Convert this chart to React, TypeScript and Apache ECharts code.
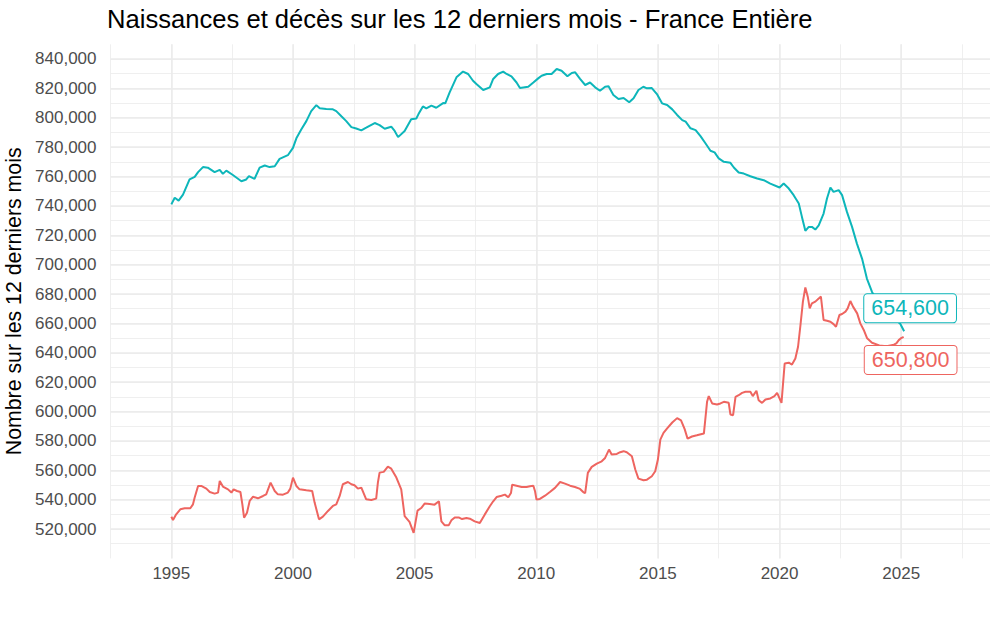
import React, { useEffect, useRef } from "react";
import * as echarts from "echarts";

const TITLE = "Naissances et décès sur les 12 derniers mois - France Entière";
const Y_NAME = "Nombre sur les 12 derniers mois";
const X_TICK_YEARS = [1995, 2000, 2005, 2010, 2015, 2020, 2025];
const Y_LABEL_MIN = 520000;
const Y_LABEL_MAX = 840000;

const BIRTH_COLOR = "#0DB6BA";
const DEATH_COLOR = "#EE6560";

// Naissances (births), 12-month rolling totals
const birthDates = [
  1995.0, 1995.14, 1995.3, 1995.48, 1995.75, 1995.96, 1996.1, 1996.3, 1996.5, 1996.78,
  1996.99, 1997.12, 1997.26, 1997.53, 1997.88, 1998.08, 1998.19, 1998.42, 1998.63, 1998.84,
  1999.04, 1999.25, 1999.45, 1999.79, 2000.0, 2000.14, 2000.34, 2000.55, 2000.75, 2000.96,
  2001.1, 2001.37, 2001.64, 2001.78, 2001.99, 2002.19, 2002.4, 2002.6, 2002.81, 2003.01,
  2003.36, 2003.56, 2003.77, 2004.04, 2004.18, 2004.32, 2004.59, 2004.86, 2005.07, 2005.16,
  2005.34, 2005.48, 2005.69, 2005.89, 2006.17, 2006.26, 2006.44, 2006.72, 2006.99, 2007.2,
  2007.4, 2007.54, 2007.82, 2008.09, 2008.23, 2008.43, 2008.64, 2008.78, 2008.98, 2009.19,
  2009.33, 2009.67, 2009.88, 2010.08, 2010.22, 2010.43, 2010.63, 2010.84, 2011.04, 2011.28,
  2011.46, 2011.6, 2011.8, 2012.01, 2012.21, 2012.42, 2012.62, 2012.83, 2012.97, 2013.17,
  2013.38, 2013.59, 2013.82, 2014.0, 2014.2, 2014.4, 2014.55, 2014.75, 2014.96, 2015.17,
  2015.38, 2015.59, 2015.79, 2016.0, 2016.14, 2016.34, 2016.55, 2016.75, 2016.96, 2017.16,
  2017.33, 2017.5, 2017.71, 2017.98, 2018.12, 2018.32, 2018.53, 2018.8, 2019.08, 2019.35,
  2019.62, 2020.0, 2020.17, 2020.38, 2020.58, 2020.79, 2020.92, 2021.06, 2021.2, 2021.33,
  2021.47, 2021.61, 2021.81, 2021.95, 2022.09, 2022.22, 2022.43, 2022.57, 2022.77, 2022.98,
  2023.18, 2023.39, 2023.59, 2023.8, 2024.0, 2024.25, 2024.5, 2024.75, 2024.96, 2025.12,
];
const birthValues = [
  741000, 745500, 743600, 747700, 758000, 759800, 763000, 766400, 766000, 763000,
  764500, 761800, 764000, 761000, 756800, 758000, 760200, 758400, 766000, 767500,
  766400, 767000, 772000, 774500, 779500, 786000, 792000, 797700, 804500, 808600,
  806400, 806000, 805700, 804500, 801000, 797700, 793600, 792700, 791400, 793200,
  796400, 795000, 792500, 793900, 791000, 786800, 791000, 799000, 799500, 802500,
  807700, 806400, 808200, 806800, 810000, 809800, 817300, 827500, 831400, 829800,
  825200, 823000, 818900, 820700, 826400, 829800, 831400, 829800, 828200, 824000,
  820200, 821100, 824000, 826800, 828600, 829800, 829800, 833200, 832000, 828200,
  830500, 830900, 826400, 822300, 824000, 820700, 818400, 821100, 821400, 815500,
  812700, 813400, 810500, 813200, 818900, 821100, 820000, 820200, 816100, 809800,
  808700, 805700, 801900, 798400, 797300, 792800, 791600, 787500, 782500, 777500,
  776400, 772300, 770000, 769300, 766100, 762700, 762000, 760200, 758600, 757500,
  755200, 752500, 755200, 751800, 747300, 741600, 732500, 723000, 725700, 725700,
  723900, 726800, 734800, 745000, 752500, 749500, 750700, 747300, 735900, 725700,
  714300, 704100, 690500, 681400, 675700, 670500, 666500, 662500, 659800, 654600,
];

// Décès (deaths), 12-month rolling totals
const deathDates = [
  1995.0, 1995.07, 1995.2, 1995.37, 1995.55, 1995.78, 1995.89, 1995.96, 1996.1, 1996.23,
  1996.44, 1996.58, 1996.78, 1996.92, 1996.99, 1997.12, 1997.33, 1997.47, 1997.56, 1997.7,
  1997.84, 1997.92, 1997.99, 1998.11, 1998.22, 1998.36, 1998.56, 1998.77, 1998.9, 1999.08,
  1999.25, 1999.38, 1999.59, 1999.79, 1999.89, 2000.0, 2000.14, 2000.27, 2000.55, 2000.79,
  2000.89, 2001.07, 2001.23, 2001.44, 2001.64, 2001.78, 2001.92, 2002.05, 2002.26, 2002.4,
  2002.53, 2002.67, 2002.81, 2003.01, 2003.22, 2003.42, 2003.49, 2003.56, 2003.73, 2003.9,
  2004.04, 2004.25, 2004.45, 2004.59, 2004.79, 2004.96, 2005.12, 2005.27, 2005.41, 2005.62,
  2005.82, 2006.0, 2006.1, 2006.24, 2006.4, 2006.51, 2006.65, 2006.81, 2006.95, 2007.13,
  2007.27, 2007.47, 2007.68, 2007.88, 2008.09, 2008.23, 2008.37, 2008.57, 2008.71, 2008.85,
  2008.96, 2009.01, 2009.19, 2009.4, 2009.6, 2009.74, 2009.88, 2009.95, 2010.01, 2010.15,
  2010.36, 2010.56, 2010.77, 2010.98, 2011.18, 2011.39, 2011.59, 2011.8, 2011.94, 2012.01,
  2012.12, 2012.28, 2012.49, 2012.69, 2012.83, 2012.99, 2013.1, 2013.31, 2013.45, 2013.59,
  2013.72, 2013.93, 2014.07, 2014.2, 2014.41, 2014.55, 2014.75, 2014.89, 2015.0, 2015.1,
  2015.23, 2015.38, 2015.59, 2015.79, 2015.95, 2016.1, 2016.22, 2016.4, 2016.6, 2016.89,
  2017.02, 2017.09, 2017.23, 2017.43, 2017.57, 2017.71, 2017.91, 2017.98, 2018.09, 2018.19,
  2018.32, 2018.46, 2018.6, 2018.8, 2018.9, 2019.05, 2019.14, 2019.28, 2019.42, 2019.62,
  2019.79, 2019.9, 2020.08, 2020.21, 2020.38, 2020.51, 2020.65, 2020.76, 2020.86, 2020.96,
  2021.06, 2021.16, 2021.24, 2021.33, 2021.47, 2021.61, 2021.7, 2021.81, 2021.95, 2022.09,
  2022.22, 2022.32, 2022.46, 2022.57, 2022.71, 2022.8, 2022.91, 2023.02, 2023.19, 2023.32,
  2023.46, 2023.6, 2023.8, 2024.1, 2024.4, 2024.7, 2024.8, 2024.9, 2025.0, 2025.1,
];
const deathValues = [
  528400, 526100, 530000, 533400, 534100, 534100, 536800, 541400, 549300, 549300,
  547500, 545200, 544100, 544800, 552700, 548900, 547000, 544800, 547000, 545900,
  545200, 536800, 527700, 531100, 539100, 542000, 540900, 542500, 543600, 551600,
  545900, 543600, 543400, 544800, 547500, 555000, 549300, 547000, 546400, 545900,
  538000, 526600, 528400, 532300, 535700, 536800, 542500, 550500, 552000, 550500,
  549800, 547500, 548200, 540200, 539800, 540700, 551600, 558400, 558900, 562500,
  561100, 555000, 547000, 528800, 524800, 517400, 532500, 534300, 537300, 537000,
  536600, 538900, 525200, 522500, 522500, 525900, 527900, 527900, 526800, 527500,
  527000, 525200, 524100, 529800, 535500, 538900, 541800, 542700, 543400, 541600,
  544500, 550200, 549500, 548600, 548600, 549100, 549500, 545700, 540000, 540500,
  542700, 545200, 548000, 552000, 550900, 549500, 548600, 547300, 545000, 544500,
  558200, 562300, 564500, 566100, 568400, 574100, 570700, 571100, 572300, 573000,
  572300, 569500, 560500, 554300, 553200, 553600, 555900, 559300, 567300, 580900,
  585500, 588500, 592500, 595500, 594000, 588000, 581500, 583000, 583800, 585000,
  606600, 610500, 605500, 604800, 605500, 606600, 605900, 598000, 597500, 610000,
  611100, 612700, 613400, 613400, 610500, 614100, 607700, 605900, 608200, 608900,
  610500, 612700, 605900, 632700, 633200, 632000, 636100, 644100, 658900, 674800,
  684500, 678200, 670200, 673600, 674800, 677000, 678200, 662300, 661800, 661100,
  659500, 657700, 665700, 666400, 668000, 670200, 675200, 671400, 666800, 660000,
  655500, 649800, 646800, 645000, 644500, 645500, 646400, 648600, 650000, 650800,
];

const FONT = "'Liberation Sans', Arial, Helvetica, sans-serif";
const GRID_COLOR = "#EBEBEB";

function fmt(v: number): string {
  return Math.round(v).toString().replace(/\B(?=(\d{3})+(?!\d))/g, ",");
}

function endLabel(dates: number[], values: number[], color: string, offset: number[]) {
  const i = dates.length - 1;
  return {
    symbol: "circle",
    symbolSize: 0,
    silent: true,
    z: 10,
    data: [{ coord: [dates[i], values[i]], value: values[i] }],
    label: {
      show: true,
      position: "inside",
      offset,
      formatter: (p: any) => fmt(p.value),
      color,
      fontFamily: FONT,
      fontSize: 21.5,
      lineHeight: 24,
      backgroundColor: "#FFFFFF",
      borderColor: color,
      borderWidth: 1,
      borderRadius: 3,
      padding: [2, 7, 2, 7],
    },
  };
}

export default function App() {
  const ref = useRef<HTMLDivElement>(null);

  useEffect(() => {
    if (!ref.current) return;
    const chart = echarts.init(ref.current, undefined, { renderer: "svg" });
    const xMin = 1992.5;
    const xMax = 2028.65;
    const yMin = 500000;
    const yMax = 850000;

    chart.setOption({
      animation: false,
      backgroundColor: "#FFFFFF",
      title: {
        text: TITLE,
        left: 107,
        top: 6,
        padding: 0,
        textStyle: {
          fontFamily: FONT,
          fontSize: 25.6,
          fontWeight: "normal",
          color: "#000000",
        },
      },
      grid: {
        left: 110.5,
        right: 10,
        top: 44.3,
        bottom: 59.6,
        containLabel: false,
        outerBoundsMode: "none",
      },
      xAxis: [
        {
          type: "value",
          position: "bottom",
          min: xMin,
          max: xMax,
          interval: 2.5,
          axisLine: { show: false },
          axisTick: { show: false },
          axisLabel: { show: false },
          splitLine: {
            show: true,
            showMaxLine: false,
            lineStyle: { color: GRID_COLOR, width: 0.8 },
          },
        },
        {
          type: "value",
          position: "bottom",
          min: xMin,
          max: xMax,
          interval: 2.5,
          axisLine: { show: false },
          axisTick: { show: false },
          axisLabel: {
            show: true,
            margin: 7,
            color: "#4D4D4D",
            fontFamily: FONT,
            fontSize: 17,
            formatter: (v: number) =>
              X_TICK_YEARS.some((y) => Math.abs(y - v) < 1e-6) ? String(Math.round(v)) : "",
          },
          splitLine: {
            show: true,
            showMaxLine: false,
            lineStyle: { color: ["rgba(0,0,0,0)", GRID_COLOR], width: 1.5 },
          },
        },
      ],
      yAxis: [
        {
          type: "value",
          position: "left",
          min: yMin,
          max: yMax,
          interval: 10000,
          axisLine: { show: false },
          axisTick: { show: false },
          axisLabel: { show: false },
          splitLine: {
            show: true,
            showMinLine: false,
            showMaxLine: false,
            lineStyle: { color: GRID_COLOR, width: 0.8 },
          },
        },
        {
          type: "value",
          position: "left",
          min: yMin,
          max: yMax,
          interval: 20000,
          name: Y_NAME,
          nameLocation: "middle",
          nameGap: 77,
          nameRotate: 90,
          nameTextStyle: { fontFamily: FONT, fontSize: 21.3, color: "#000000" },
          axisLine: { show: false },
          axisTick: { show: false },
          axisLabel: {
            show: true,
            margin: 14,
            color: "#4D4D4D",
            fontFamily: FONT,
            fontSize: 17,
            formatter: (v: number) => (v >= Y_LABEL_MIN && v <= Y_LABEL_MAX ? fmt(v) : ""),
          },
          splitLine: {
            show: true,
            showMinLine: false,
            showMaxLine: false,
            lineStyle: { color: GRID_COLOR, width: 1.5 },
          },
        },
      ],
      series: [
        {
          name: "Décès",
          type: "line",
          xAxisIndex: 0,
          yAxisIndex: 0,
          showSymbol: false,
          symbol: "none",
          lineStyle: { color: DEATH_COLOR, width: 2 },
          itemStyle: { color: DEATH_COLOR },
          data: deathDates.map((d, i) => [d, deathValues[i]]),
          markPoint: endLabel(deathDates, deathValues, DEATH_COLOR, [7, 23]),
        },
        {
          name: "Naissances",
          type: "line",
          xAxisIndex: 0,
          yAxisIndex: 0,
          showSymbol: false,
          symbol: "none",
          lineStyle: { color: BIRTH_COLOR, width: 2 },
          itemStyle: { color: BIRTH_COLOR },
          data: birthDates.map((d, i) => [d, birthValues[i]]),
          markPoint: endLabel(birthDates, birthValues, BIRTH_COLOR, [6, -23]),
        },
      ],
    });

    return () => {
      chart.dispose();
    };
  }, []);

  return (
    <div
      ref={ref}
      style={{ position: "fixed", left: 0, top: 0, width: 1000, height: 618, background: "#fff" }}
    />
  );
}
